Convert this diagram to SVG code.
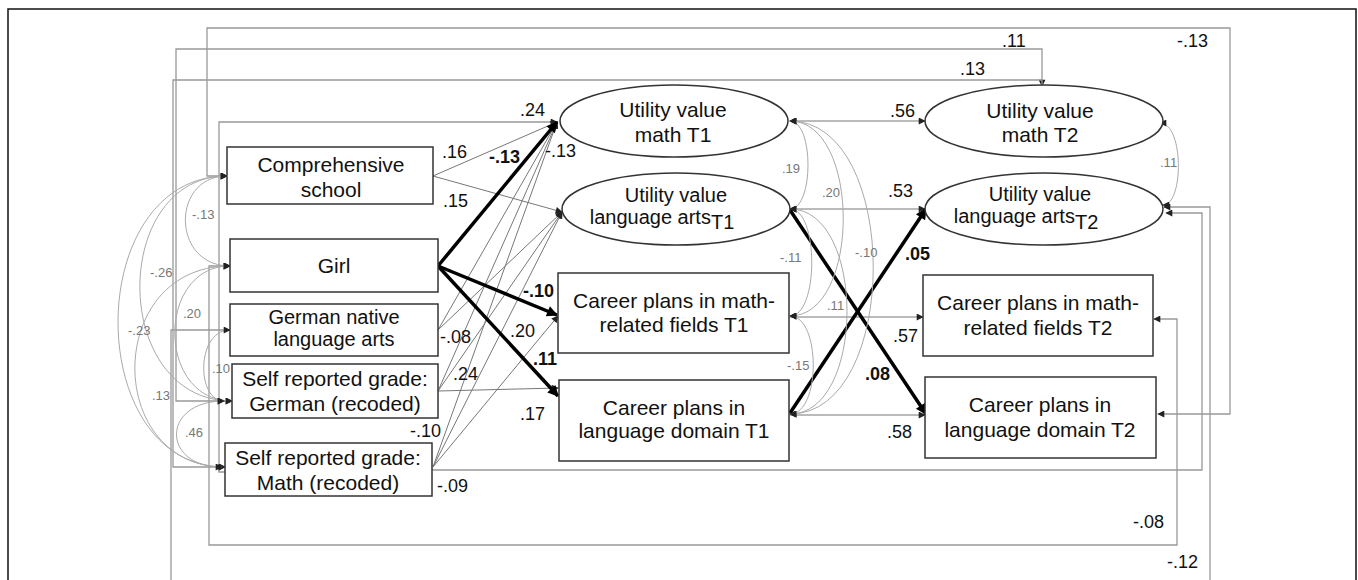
<svg xmlns="http://www.w3.org/2000/svg" width="1358" height="580" viewBox="0 0 1358 580">
<style>
text{font-family:"Liberation Sans",Arial,sans-serif;fill:#111}
.nt{font-size:21px;text-anchor:middle}
.nt2{font-size:20px;text-anchor:middle}
.lb{font-size:18px}
.bl{font-size:18px;font-weight:bold}
.gl{font-size:13px;fill:#777}
.box{fill:#fff;stroke:#333;stroke-width:1.5}
.thin{fill:none;stroke:#777;stroke-width:1}
.route{fill:none;stroke:#999;stroke-width:1.3}
.arc{fill:none;stroke:#aaa;stroke-width:1}
.bold{fill:none;stroke:#000;stroke-width:3.5}
</style>
<defs>
<marker id="a" viewBox="0 0 10 10" refX="9" refY="5" markerWidth="9" markerHeight="7" markerUnits="userSpaceOnUse" orient="auto-start-reverse"><path d="M0,0L10,5L0,10z" fill="#222"/></marker>
<marker id="ab" viewBox="0 0 10 10" refX="9" refY="5" markerWidth="15" markerHeight="11" markerUnits="userSpaceOnUse" orient="auto"><path d="M0,0L10,5L0,10z" fill="#000"/></marker>
</defs>
<rect x="8" y="9" width="1348" height="620" fill="none" stroke="#111" stroke-width="1.5"/>
<g id="connectors">
<path class="route" d="M227,176 H207 V28 H1230 V414 H1158" marker-end="url(#a)"/>
<path class="route" d="M232,401 H176 V49 H1042 V86" marker-end="url(#a)"/>
<path class="route" d="M225,467 H173 V80 H1042 V86"/>
<path class="route" d="M230,330 H171 V620 H1210 V207 H1164" marker-end="url(#a)"/>
<path class="route" d="M225,472 H219 V122 H557" marker-end="url(#a)"/>
<path class="route" d="M230,266 H209 V545 H1177 V319 H1154" marker-end="url(#a)"/>
<path class="route" d="M432,470 H1202 V213 H1166" marker-end="url(#a)"/>
<path class="thin" d="M433,176 L557,122" marker-end="url(#a)"/>
<path class="thin" d="M433,176 L562,212" marker-end="url(#a)"/>
<path class="thin" d="M438,330 L557,122" marker-end="url(#a)"/>
<path class="thin" d="M438,330 L562,212" marker-end="url(#a)"/>
<path class="thin" d="M438,391 L557,122" marker-end="url(#a)"/>
<path class="thin" d="M438,391 L562,212" marker-end="url(#a)"/>
<path class="thin" d="M438,391 L558,388" marker-end="url(#a)"/>
<path class="thin" d="M433,467 L557,122" marker-end="url(#a)"/>
<path class="thin" d="M433,467 L562,212" marker-end="url(#a)"/>
<path class="thin" d="M433,467 L558,316" marker-end="url(#a)"/>
<path class="thin" d="M790,121 H925" marker-end="url(#a)"/>
<path class="thin" d="M790,209 H925" marker-end="url(#a)"/>
<path class="thin" d="M790,317 H923" marker-end="url(#a)"/>
<path class="thin" d="M790,415 H925" marker-end="url(#a)"/>
<path class="bold" d="M438,266 L557,122" marker-end="url(#ab)"/>
<path class="bold" d="M438,266 L557,315" marker-end="url(#ab)"/>
<path class="bold" d="M438,266 L558,396" marker-end="url(#ab)"/>
<path class="bold" d="M790,210 L926,414" marker-end="url(#ab)"/>
<path class="bold" d="M790,413 L926,209" marker-end="url(#ab)"/>
<path class="arc" d="M227,176 C171,176 171,266 230,266" marker-start="url(#a)" marker-end="url(#a)"/>
<path class="arc" d="M227,176 C110,176 110,401 232,401" marker-start="url(#a)" marker-end="url(#a)"/>
<path class="arc" d="M227,176 C82,176 82,467 225,467" marker-start="url(#a)" marker-end="url(#a)"/>
<path class="arc" d="M230,266 C156,266 156,401 232,401" marker-start="url(#a)" marker-end="url(#a)"/>
<path class="arc" d="M230,330 C196,330 196,401 224,401" marker-start="url(#a)" marker-end="url(#a)"/>
<path class="arc" d="M230,266 C104,266 104,467 225,467" marker-start="url(#a)" marker-end="url(#a)"/>
<path class="arc" d="M224,401 C161,401 161,467 222,467" marker-start="url(#a)" marker-end="url(#a)"/>
<path class="arc" d="M790,121 C814,121 814,209 790,209" marker-start="url(#a)" marker-end="url(#a)"/>
<path class="arc" d="M790,121 C861,121 861,316 790,316" marker-start="url(#a)" marker-end="url(#a)"/>
<path class="arc" d="M790,121 C901,121 901,414 790,414" marker-start="url(#a)" marker-end="url(#a)"/>
<path class="arc" d="M790,209 C819,209 819,316 790,316" marker-start="url(#a)" marker-end="url(#a)"/>
<path class="arc" d="M790,209 C866,209 866,414 790,414" marker-start="url(#a)" marker-end="url(#a)"/>
<path class="arc" d="M790,316 C821,316 821,414 790,414" marker-start="url(#a)" marker-end="url(#a)"/>
<path class="arc" d="M1160,123 C1184,123 1184,205 1163,205" marker-start="url(#a)" marker-end="url(#a)"/>
<text class="lb" x="520" y="116">.24</text>
<text class="lb" x="442" y="158">.16</text>
<text class="bl" x="489" y="163">-.13</text>
<text class="lb" x="545" y="157">-.13</text>
<text class="lb" x="443" y="207">.15</text>
<text class="bl" x="523" y="297">-.10</text>
<text class="lb" x="440" y="343">-.08</text>
<text class="lb" x="510" y="337">.20</text>
<text class="bl" x="533" y="365">.11</text>
<text class="lb" x="453" y="380">.24</text>
<text class="lb" x="520" y="420">.17</text>
<text class="lb" x="410" y="437">-.10</text>
<text class="lb" x="437" y="492">-.09</text>
<text class="lb" x="890" y="117">.56</text>
<text class="lb" x="888" y="197">.53</text>
<text class="lb" x="893" y="342">.57</text>
<text class="lb" x="887" y="438">.58</text>
<text class="bl" x="905" y="260">.05</text>
<text class="bl" x="865" y="380">.08</text>
<text class="lb" x="1002" y="47">.11</text>
<text class="lb" x="1177" y="47">-.13</text>
<text class="lb" x="960" y="75">.13</text>
<text class="lb" x="1133" y="528">-.08</text>
<text class="lb" x="1167" y="568">-.12</text>
<text class="gl" x="192" y="219">-.13</text>
<text class="gl" x="150" y="277">-.26</text>
<text class="gl" x="183" y="318">.20</text>
<text class="gl" x="128" y="335">-.23</text>
<text class="gl" x="212" y="373">.10</text>
<text class="gl" x="152" y="400">.13</text>
<text class="gl" x="185" y="437">.46</text>
<text class="gl" x="782" y="173">.19</text>
<text class="gl" x="822" y="197">.20</text>
<text class="gl" x="780" y="262">-.11</text>
<text class="gl" x="855" y="257">-.10</text>
<text class="gl" x="827" y="310">.11</text>
<text class="gl" x="787" y="370">-.15</text>
<text class="gl" x="1160" y="167">.11</text>
</g>
<g id="comp"><rect class="box" x="227" y="147" width="206" height="57"/><text class="nt" x="331" y="172">Comprehensive</text><text class="nt" x="331" y="197">school</text></g>
<g id="girl"><rect class="box" x="230" y="239" width="208" height="53"/><text class="nt" x="334" y="273">Girl</text></g>
<g id="gnative"><rect class="box" x="230" y="304" width="208" height="52"/><text class="nt2" x="334" y="324">German native</text><text class="nt2" x="334" y="346">language arts</text></g>
<g id="ggerman"><rect class="box" x="232" y="364" width="206" height="54"/><text class="nt" x="335" y="386">Self reported grade:</text><text class="nt" x="335" y="411">German (recoded)</text></g>
<g id="gmath"><rect class="box" x="225" y="443" width="207" height="53"/><text class="nt" x="328" y="465">Self reported grade:</text><text class="nt" x="328" y="490">Math (recoded)</text></g>
<g id="uvm1"><ellipse class="box" cx="674" cy="121" rx="114" ry="36"/><text class="nt" x="673" y="117">Utility value</text><text class="nt" x="673" y="142">math T1</text></g>
<g id="uvl1"><ellipse class="box" cx="676" cy="209" rx="114" ry="36"/><text class="nt2" x="676" y="202">Utility value</text><text class="nt2" x="662" y="224">language arts<tspan dy="5">T1</tspan></text></g>
<g id="cpm1"><rect class="box" x="558" y="273" width="231" height="80"/><text class="nt" x="674" y="308">Career plans in math-</text><text class="nt" x="674" y="332">related fields T1</text></g>
<g id="cpl1"><rect class="box" x="559" y="380" width="230" height="81"/><text class="nt" x="674" y="415">Career plans in</text><text class="nt" x="674" y="438">language domain T1</text></g>
<g id="uvm2"><ellipse class="box" cx="1044" cy="121" rx="119" ry="36"/><text class="nt" x="1040" y="118">Utility value</text><text class="nt" x="1040" y="142">math T2</text></g>
<g id="uvl2"><ellipse class="box" cx="1044" cy="209" rx="119" ry="36"/><text class="nt2" x="1040" y="201">Utility value</text><text class="nt2" x="1026" y="223">language arts<tspan dy="6">T2</tspan></text></g>
<g id="cpm2"><rect class="box" x="923" y="275" width="230" height="81"/><text class="nt" x="1038" y="310">Career plans in math-</text><text class="nt" x="1038" y="335">related fields T2</text></g>
<g id="cpl2"><rect class="box" x="925" y="377" width="231" height="81"/><text class="nt" x="1040" y="412">Career plans in</text><text class="nt" x="1040" y="437">language domain T2</text></g>
</svg>
